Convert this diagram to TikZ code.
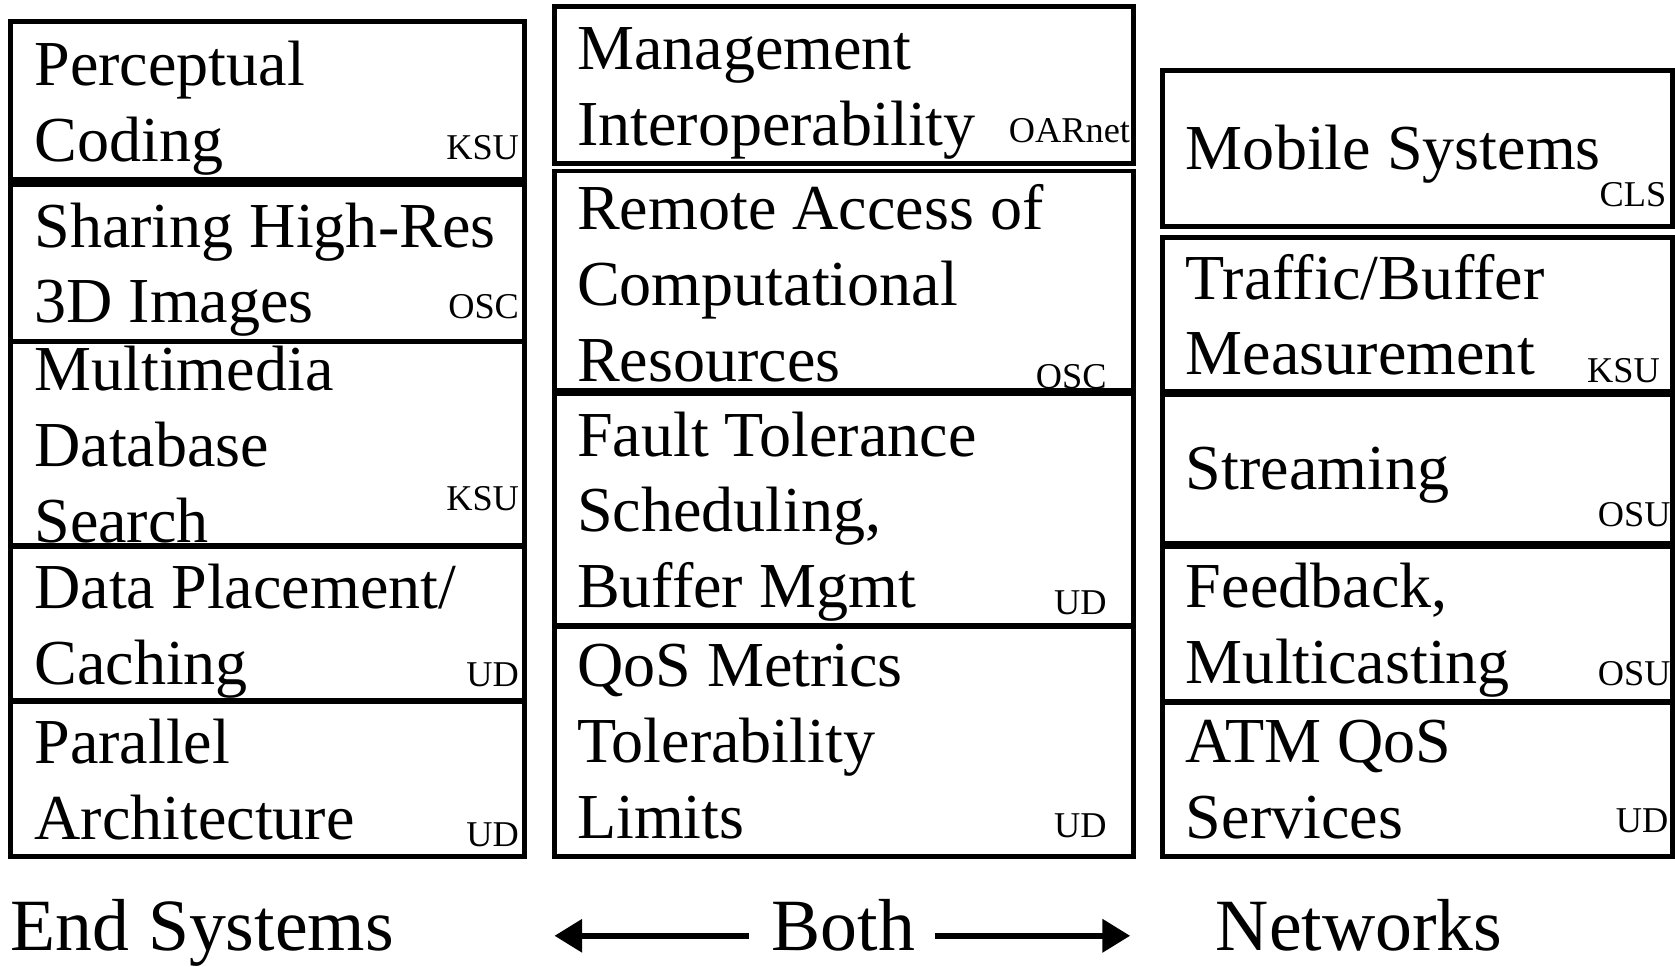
\documentclass[tikz,border=0pt]{standalone}
\usepackage{fontspec}
\setmainfont{Liberation Serif}
\usetikzlibrary{arrows.meta}
\begin{document}
\begin{tikzpicture}[x=1pt,y=-1pt,
 cell/.style={draw=black, line width=4.5pt, fill=white, anchor=north west, inner sep=0pt, outer sep=0pt},
 big/.style={font=\fontsize{60}{71}\selectfont, inner sep=0pt, anchor=base west},
 tag/.style={font=\fontsize{34}{40}\selectfont, inner sep=0pt, anchor=base east},
 foot/.style={font=\fontsize{69}{80}\selectfont, inner sep=0pt, anchor=base west},
 arr/.style={line width=6pt, -{Triangle[length=26pt,width=30pt]}}
]
\useasboundingbox (0,0) rectangle (1568,905);
% ---------- left column ----------
\node[cell, minimum width=481pt, minimum height=148pt] (L1) at (10,20) {};
\node[big] (L1a) at (32,80) {Perceptual};
\node[big] (L1b) at (32,151) {Coding};
\node[tag] (L1t) at (486,149) {KSU};
\node[cell, minimum width=481pt, minimum height=147pt] (L2) at (10,173) {};
\node[big] (L2a) at (32,232) {Sharing High-Res};
\node[big] (L2b) at (32,302) {3D Images};
\node[tag] (L2t) at (486,298) {OSC};
\node[cell, minimum width=481pt, minimum height=191pt] (L3) at (10,320) {};
\node[big] (L3a) at (32,366) {Multimedia};
\node[big] (L3b) at (32,437) {Database};
\node[big] (L3c) at (32,508) {Search};
\node[tag] (L3t) at (486,478) {KSU};
\node[cell, minimum width=481pt, minimum height=144pt] (L4) at (10,512) {};
\node[big] (L4a) at (32,570) {Data Placement/};
\node[big] (L4b) at (32,641) {Caching};
\node[tag] (L4t) at (486,643) {UD};
\node[cell, minimum width=481pt, minimum height=145pt] (L5) at (10,657) {};
\node[big] (L5a) at (32,715) {Parallel};
\node[big] (L5b) at (32,786) {Architecture};
\node[tag] (L5t) at (486,792) {UD};
% ---------- middle column ----------
\node[cell, minimum width=542pt, minimum height=147pt] (M1) at (519,6) {};
\node[big] (M1a) at (540,65) {Management};
\node[big] (M1b) at (540,136) {Interoperability};
\node[tag] (M1t) at (1058,133) {OARnet};
\node[cell, minimum width=542pt, minimum height=205pt] (M2) at (519,160) {};
\node[big] (M2a) at (540,215) {Remote Access of};
\node[big] (M2b) at (540,286) {Computational};
\node[big] (M2c) at (540,357) {Resources};
\node[tag] (M2t) at (1036,364) {OSC};
\node[cell, minimum width=542pt, minimum height=217pt] (M3) at (519,368) {};
\node[big] (M3a) at (540,427) {Fault Tolerance};
\node[big] (M3b) at (540,498) {Scheduling,};
\node[big] (M3c) at (540,569) {Buffer Mgmt};
\node[tag] (M3t) at (1036,575) {UD};
\node[cell, minimum width=542pt, minimum height=215pt] (M4) at (519,587) {};
\node[big] (M4a) at (540,643) {QoS Metrics};
\node[big] (M4b) at (540,714) {Tolerability};
\node[big] (M4c) at (540,785) {Limits};
\node[tag] (M4t) at (1036,784) {UD};
% ---------- right column ----------
\node[cell, minimum width=478pt, minimum height=146pt] (R1) at (1088,66) {};
\node[big] (R1a) at (1110,159) {Mobile Systems};
\node[tag] (R1t) at (1560,193) {CLS};
\node[cell, minimum width=478pt, minimum height=144pt] (R2) at (1088,222) {};
\node[big] (R2a) at (1110,280) {Traffic/Buffer};
\node[big] (R2b) at (1110,351) {Measurement};
\node[tag] (R2t) at (1554,358) {KSU};
\node[cell, minimum width=478pt, minimum height=140pt] (R3) at (1088,369) {};
\node[big] (R3a) at (1110,458) {Streaming};
\node[tag] (R3t) at (1564,493) {OSU};
\node[cell, minimum width=478pt, minimum height=145pt] (R4) at (1088,512) {};
\node[big] (R4a) at (1110,569) {Feedback,};
\node[big] (R4b) at (1110,640) {Multicasting};
\node[tag] (R4t) at (1564,642) {OSU};
\node[cell, minimum width=478pt, minimum height=144pt] (R5) at (1088,658) {};
\node[big] (R5a) at (1110,714) {ATM QoS};
\node[big] (R5b) at (1110,785) {Services};
\node[tag] (R5t) at (1562,779) {UD};
% ---------- footer ----------
\node[foot] (end) at (10,890) {End Systems};
\node[foot] (both) at (722,890) {Both};
\node[foot] (net) at (1138,890) {Networks};
\coordinate (ls) at (701,876);
\coordinate (lt) at (519,876);
\coordinate (rs) at (875,876);
\coordinate (rt) at (1058,876);
\draw[arr] (ls) -- (lt);
\draw[arr] (rs) -- (rt);
\end{tikzpicture}
\end{document}
